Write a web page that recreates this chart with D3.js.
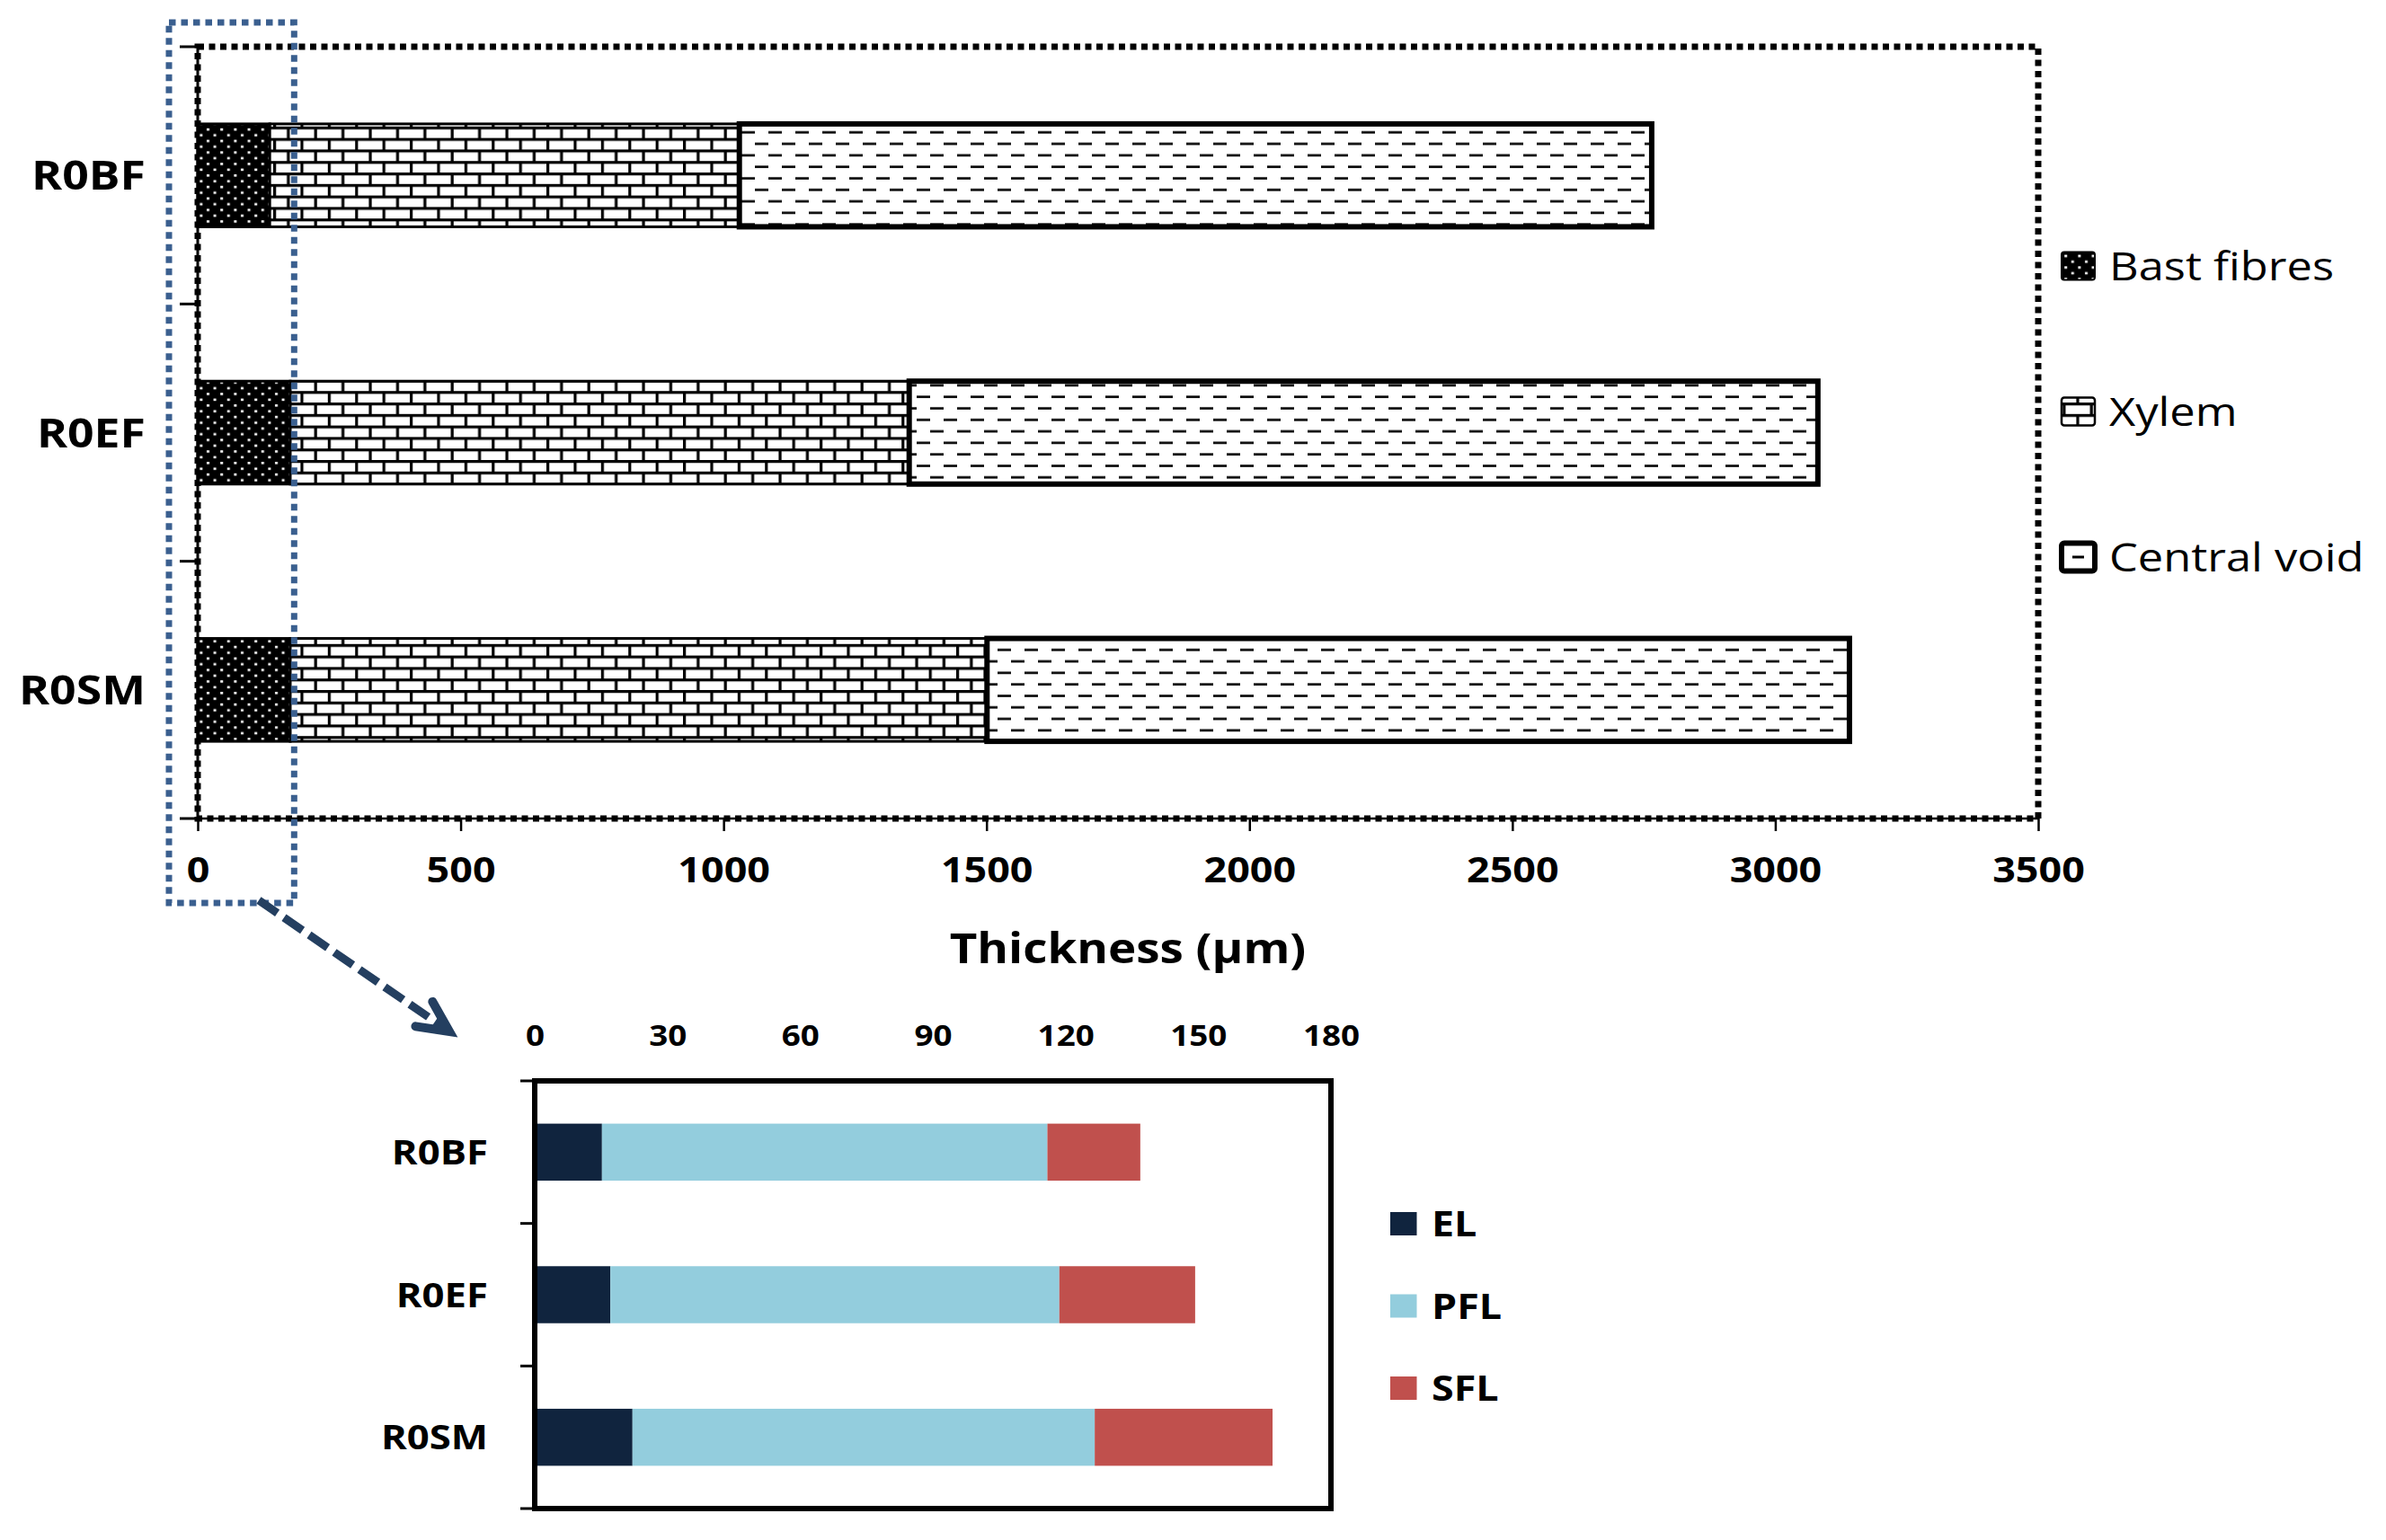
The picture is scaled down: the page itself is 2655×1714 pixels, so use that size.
<!DOCTYPE html>
<html>
<head>
<meta charset="utf-8">
<title>Thickness of stem layers</title>
<script src="https://cdnjs.cloudflare.com/ajax/libs/d3/7.8.5/d3.min.js"></script>
<style>
  body { margin: 0; background: #fff; }
  svg { display: block; font-family: "Open Sans", sans-serif; }
</style>
</head>
<body>
<svg id="chart" width="2655" height="1714"></svg>
<script>
var samples = ["R0BF", "R0EF", "R0SM"];

// main chart, thickness in µm
var bastFibres  = [137, 176, 176];
var xylem       = [893, 1177, 1325];
var centralVoid = [1735, 1728, 1640];
var mainTicks   = [0, 500, 1000, 1500, 2000, 2500, 3000, 3500];
var mainLegend  = ["Bast fibres", "Xylem", "Central void"];

// zoom on the bast fibres, thickness in µm
var EL  = [15.2, 17.1, 22.1];
var PFL = [100.7, 101.5, 104.5];
var SFL = [21.0, 30.7, 40.2];
var zoomTicks  = [0, 30, 60, 90, 120, 150, 180];
var zoomLegend = ["EL", "PFL", "SFL"];
var zoomColors = ["#10243e", "#93cddd", "#c0504d"];

var SX = 1.15; // the original text is stretched a little sideways

var svg = d3.select("#chart");

function label(g, txt, x, y, size, weight, anchor) {
  return g.append("text")
    .attr("transform", "translate(" + x + "," + y + ") scale(" + SX + ",1)")
    .attr("font-size", size)
    .attr("font-weight", weight)
    .attr("text-anchor", anchor || "start")
    .attr("fill", "#000")
    .text(txt);
}

// ---- patterns ----
var defs = svg.append("defs");

var pb = defs.append("pattern").attr("id", "bast")
  .attr("patternUnits", "userSpaceOnUse").attr("width", 15.2).attr("height", 12.8);
pb.append("rect").attr("width", 15.2).attr("height", 12.8).attr("fill", "#000");
pb.append("rect").attr("x", 2).attr("y", 2).attr("width", 3).attr("height", 2.6).attr("fill", "#fff");
pb.append("rect").attr("x", 9.6).attr("y", 8.4).attr("width", 3).attr("height", 2.6).attr("fill", "#fff");

var pk = defs.append("pattern").attr("id", "brick")
  .attr("patternUnits", "userSpaceOnUse").attr("width", 30.4).attr("height", 25.6);
pk.append("rect").attr("width", 30.4).attr("height", 25.6).attr("fill", "#fff");
pk.append("rect").attr("x", 0).attr("y", 0).attr("width", 30.4).attr("height", 3.2).attr("fill", "#000");
pk.append("rect").attr("x", 0).attr("y", 12.8).attr("width", 30.4).attr("height", 3.2).attr("fill", "#000");
pk.append("rect").attr("x", 0).attr("y", 0).attr("width", 3.2).attr("height", 12.8).attr("fill", "#000");
pk.append("rect").attr("x", 15.2).attr("y", 12.8).attr("width", 3.2).attr("height", 12.8).attr("fill", "#000");

var pv = defs.append("pattern").attr("id", "void")
  .attr("patternUnits", "userSpaceOnUse").attr("width", 30).attr("height", 25.6);
pv.append("rect").attr("width", 30).attr("height", 25.6).attr("fill", "#fff");
pv.append("rect").attr("x", 0).attr("y", 5.2).attr("width", 15).attr("height", 2.6).attr("fill", "#000");
pv.append("rect").attr("x", 15).attr("y", 18).attr("width", 15).attr("height", 2.6).attr("fill", "#000");

// ---- main chart ----
var x = d3.scaleLinear().domain([0, 3500]).range([220, 2268]);
var y = d3.scaleBand().domain(samples).range([52, 911]).paddingInner(0.6).paddingOuter(0.3);

var main = svg.append("g");

// dotted plot area border
main.append("rect")
  .attr("x", x(0)).attr("y", y.range()[0])
  .attr("width", x(3500) - x(0)).attr("height", y.range()[1] - y.range()[0])
  .attr("fill", "none").attr("stroke", "#000").attr("stroke-width", 7)
  .attr("stroke-dasharray", "7,5.5");

var mainRows = samples.map(function (s, i) {
  return { sample: s, "Bast fibres": bastFibres[i], "Xylem": xylem[i], "Central void": centralVoid[i] };
});
var mainStack = d3.stack().keys(mainLegend)(mainRows);
var fills = { "Bast fibres": "url(#bast)", "Xylem": "url(#brick)", "Central void": "url(#void)" };
var strokeW = { "Bast fibres": 3, "Xylem": 3, "Central void": 6 };

main.append("g").selectAll("g").data(mainStack).join("g")
  .attr("fill", function (d) { return fills[d.key]; })
  .attr("stroke", "#000")
  .attr("stroke-width", function (d) { return strokeW[d.key]; })
  .selectAll("rect").data(function (d) { return d; }).join("rect")
  .attr("x", function (d) { return x(d[0]); })
  .attr("width", function (d) { return x(d[1]) - x(d[0]); })
  .attr("y", function (d) { return y(d.data.sample); })
  .attr("height", y.bandwidth());

// axis lines
main.append("line").attr("x1", x(0)).attr("x2", x(0))
  .attr("y1", y.range()[0]).attr("y2", y.range()[1])
  .attr("stroke", "#000").attr("stroke-width", 3);
main.append("line").attr("x1", x(0)).attr("x2", x(3500))
  .attr("y1", y.range()[1]).attr("y2", y.range()[1])
  .attr("stroke", "#000").attr("stroke-width", 2.5);

// category boundary ticks on the left
d3.range(samples.length + 1).forEach(function (i) {
  var yy = y.range()[0] + i * y.step();
  main.append("line").attr("x1", x(0) - 20).attr("x2", x(0))
    .attr("y1", yy).attr("y2", yy).attr("stroke", "#000").attr("stroke-width", 3);
});

var xAxis = main.append("g").attr("transform", "translate(0," + y.range()[1] + ")")
  .call(d3.axisBottom(x).tickValues(mainTicks).tickFormat(d3.format("d")).tickSize(14).tickPadding(29));
xAxis.select(".domain").remove();
xAxis.selectAll("line").attr("stroke", "#000").attr("stroke-width", 2.5);
xAxis.selectAll("text")
  .attr("font-family", "Open Sans").attr("font-size", 39).attr("font-weight", "bold")
  .attr("fill", "#000").attr("transform", "scale(" + SX + ",1)");

samples.forEach(function (s) {
  label(main, s, 162, y(s) + y.bandwidth() / 2 + 16, 45, "bold", "end");
});

label(main, "Thickness (μm)", (x(0) + x(3500)) / 2 + 11, 1072, 46, "bold", "middle");

// legend
var legSwatch = [
  { fill: "url(#bast)", stroke: "#000", sw: 2 },
  { fill: "url(#brick)", stroke: "#000", sw: 2.5 },
  { fill: "#fff", stroke: "#000", sw: 6 }
];
mainLegend.forEach(function (k, i) {
  var cy = 296 + i * 162;
  var s = legSwatch[i];
  main.append("rect").attr("x", 2294).attr("y", cy - 15.5).attr("width", 37).attr("height", 31)
    .attr("rx", 3).attr("fill", s.fill).attr("stroke", s.stroke).attr("stroke-width", s.sw);
  if (i === 2) {
    main.append("rect").attr("x", 2306).attr("y", cy - 1.5).attr("width", 13).attr("height", 3).attr("fill", "#000");
  }
  label(main, k, 2347, cy + 15.6, 44, "normal", "start");
});

// highlight box around the bast fibres
var box = { x0: x(0) - 32, x1: x(180) + 2, y0: 25, y1: 1005 };
svg.append("rect")
  .attr("x", box.x0).attr("y", box.y0)
  .attr("width", box.x1 - box.x0).attr("height", box.y1 - box.y0)
  .attr("fill", "none").attr("stroke", "#3a5f8f").attr("stroke-width", 7)
  .attr("stroke-dasharray", "7.5,6");

// arrow to the zoomed chart
var a0 = [box.x0 + 100, box.y1 - 3], a1 = [500, 1148];
var ang = Math.atan2(a1[1] - a0[1], a1[0] - a0[0]);
svg.append("line")
  .attr("x1", a0[0]).attr("y1", a0[1])
  .attr("x2", a1[0] - 10 * Math.cos(ang)).attr("y2", a1[1] - 10 * Math.sin(ang))
  .attr("stroke", "#243f60").attr("stroke-width", 9).attr("stroke-dasharray", "25,9");
var barb = 38, spread = 26 * Math.PI / 180;
svg.append("path")
  .attr("d", d3.line()([
    [a1[0] - barb * Math.cos(ang - spread), a1[1] - barb * Math.sin(ang - spread)],
    a1,
    [a1[0] - barb * Math.cos(ang + spread), a1[1] - barb * Math.sin(ang + spread)]
  ]))
  .attr("fill", "none").attr("stroke", "#243f60").attr("stroke-width", 10)
  .attr("stroke-linecap", "round").attr("stroke-linejoin", "miter");

// ---- zoomed chart ----
var x2 = d3.scaleLinear().domain([0, 180]).range([595, 1481]);
var y2 = d3.scaleBand().domain(samples).range([1203, 1679]).paddingInner(0.6).paddingOuter(0.3);

var zoom = svg.append("g");

var zoomRows = samples.map(function (s, i) {
  return { sample: s, EL: EL[i], PFL: PFL[i], SFL: SFL[i] };
});
var zoomStack = d3.stack().keys(zoomLegend)(zoomRows);

zoom.append("g").selectAll("g").data(zoomStack).join("g")
  .attr("fill", function (d, i) { return zoomColors[i]; })
  .selectAll("rect").data(function (d) { return d; }).join("rect")
  .attr("x", function (d) { return x2(d[0]); })
  .attr("width", function (d) { return x2(d[1]) - x2(d[0]); })
  .attr("y", function (d) { return y2(d.data.sample); })
  .attr("height", y2.bandwidth());

zoom.append("rect")
  .attr("x", x2(0)).attr("y", y2.range()[0])
  .attr("width", x2(180) - x2(0)).attr("height", y2.range()[1] - y2.range()[0])
  .attr("fill", "none").attr("stroke", "#000").attr("stroke-width", 6);

d3.range(samples.length + 1).forEach(function (i) {
  var yy = y2.range()[0] + i * y2.step();
  zoom.append("line").attr("x1", x2(0) - 16).attr("x2", x2(0))
    .attr("y1", yy).attr("y2", yy).attr("stroke", "#000").attr("stroke-width", 3);
});

var x2Axis = zoom.append("g").attr("transform", "translate(0," + y2.range()[0] + ")")
  .call(d3.axisTop(x2).tickValues(zoomTicks).tickSize(0).tickPadding(38.6));
x2Axis.select(".domain").remove();
x2Axis.selectAll("text")
  .attr("font-family", "Open Sans").attr("font-size", 32).attr("font-weight", "bold")
  .attr("fill", "#000").attr("transform", "scale(" + SX + ",1)");

samples.forEach(function (s) {
  label(zoom, s, 543, y2(s) + y2.bandwidth() / 2 + 13.7, 38, "bold", "end");
});

zoomLegend.forEach(function (k, i) {
  var cy = 1362 + i * 91.5;
  zoom.append("rect").attr("x", 1547).attr("y", cy - 13).attr("width", 29.5).attr("height", 26)
    .attr("fill", zoomColors[i]);
  label(zoom, k, 1593, cy + 14, 39, "bold", "start");
});
</script>
</body>
</html>
